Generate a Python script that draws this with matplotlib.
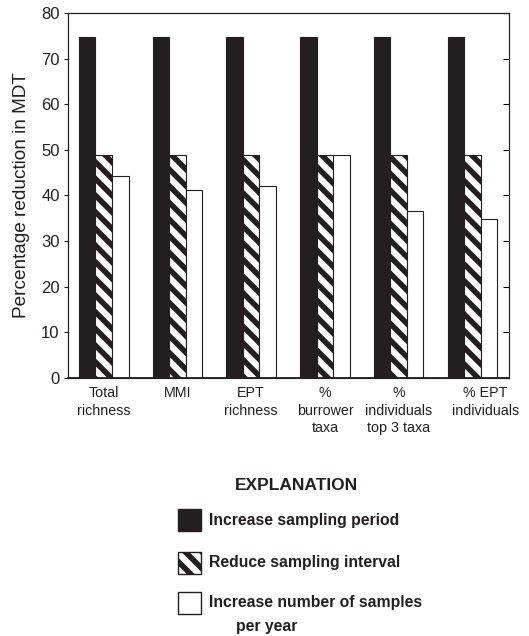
import numpy as np
import matplotlib
matplotlib.use("Agg")
import matplotlib.pyplot as plt
import matplotlib.transforms as mtransforms
from matplotlib.patches import Rectangle

plt.rcParams['font.family'] = ['Liberation Sans', 'DejaVu Sans']
plt.rcParams['hatch.linewidth'] = 4.0

# data
categories = ['Total\nrichness', 'MMI', 'EPT\nrichness', '%\nburrower\ntaxa',
              '%\nindividuals\ntop 3 taxa', '% EPT\nindividuals']
series_names = ['Increase sampling period', 'Reduce sampling interval',
                'Increase number of samples']
increase_period = [74.7, 74.7, 74.7, 74.7, 74.7, 74.7]
reduce_interval = [48.8, 48.8, 48.8, 48.8, 48.8, 48.8]
more_samples = [44.2, 41.3, 42.1, 48.8, 36.6, 34.9]

dark = '#231f20'
hatch = '\\\\'
fig = plt.figure(figsize=(5.29, 6.36), dpi=100)
ax = fig.add_axes([0.1285, 0.4057, 0.8335, 0.5739])

x = np.arange(len(categories))
w = 0.224
ax.bar(x - w, increase_period, w, color=dark, edgecolor=dark, linewidth=0.8)
ax.bar(x, reduce_interval, w, color='white', edgecolor=dark, hatch=hatch, linewidth=0.8)
ax.bar(x + w, more_samples, w, color='white', edgecolor=dark, linewidth=0.8)

ax.set_xlim(-0.485, 5.495)
ax.set_ylim(0, 80)
ax.set_yticks(np.arange(0, 81, 10))
ax.tick_params(axis='y', which='both', direction='out', length=3, labelsize=12,
               width=0.8, pad=3, colors=dark)
ax.tick_params(axis='x', length=0, labelsize=10.3, pad=6, colors=dark)
ax.set_xticks(x)
ax.set_xticklabels(categories, linespacing=1.3, va='top')
# last label sits a little to the right in the original
lbl = ax.get_xticklabels()[-1]
lbl.set_transform(lbl.get_transform() + mtransforms.ScaledTranslation(0.13, 0, fig.dpi_scale_trans))

# inward ticks on the right side
ax2 = ax.twinx()
ax2.set_ylim(0, 80)
ax2.set_yticks(np.arange(0, 81, 10))
ax2.tick_params(axis='y', direction='in', length=4, width=0.8, labelright=False)

for a in (ax, ax2):
    for s in a.spines.values():
        s.set_linewidth(0.8)
        s.set_color(dark)
ax.spines['bottom'].set_linewidth(1.3)

ax.set_ylabel('Percentage reduction in MDT', fontsize=13.7, color=dark, labelpad=8)

# explanation (legend) drawn in figure coordinates
W, H = 529.0, 636.0
fig.text(296 / W, 1 - 486 / H, 'EXPLANATION', ha='center', va='center',
         fontsize=12.5, fontweight='bold', color=dark)
rows_y = [520, 563, 603]
styles = [dict(facecolor=dark, hatch=None), dict(facecolor='white', hatch=hatch),
          dict(facecolor='white', hatch=None)]
for name, yy, st in zip(series_names, rows_y, styles):
    r = Rectangle((178 / W, 1 - (yy + 11) / H), 23 / W, 22 / H, transform=fig.transFigure,
                  facecolor=st['facecolor'], edgecolor=dark, hatch=st['hatch'], linewidth=1)
    fig.patches.append(r)
    fig.text(209 / W, 1 - yy / H, name, ha='left', va='center',
             fontsize=11.3, fontweight='bold', color=dark)
fig.text(236 / W, 1 - 626 / H, 'per year', ha='left', va='center',
         fontsize=11.3, fontweight='bold', color=dark)

fig.savefig('out.png', dpi=100)
